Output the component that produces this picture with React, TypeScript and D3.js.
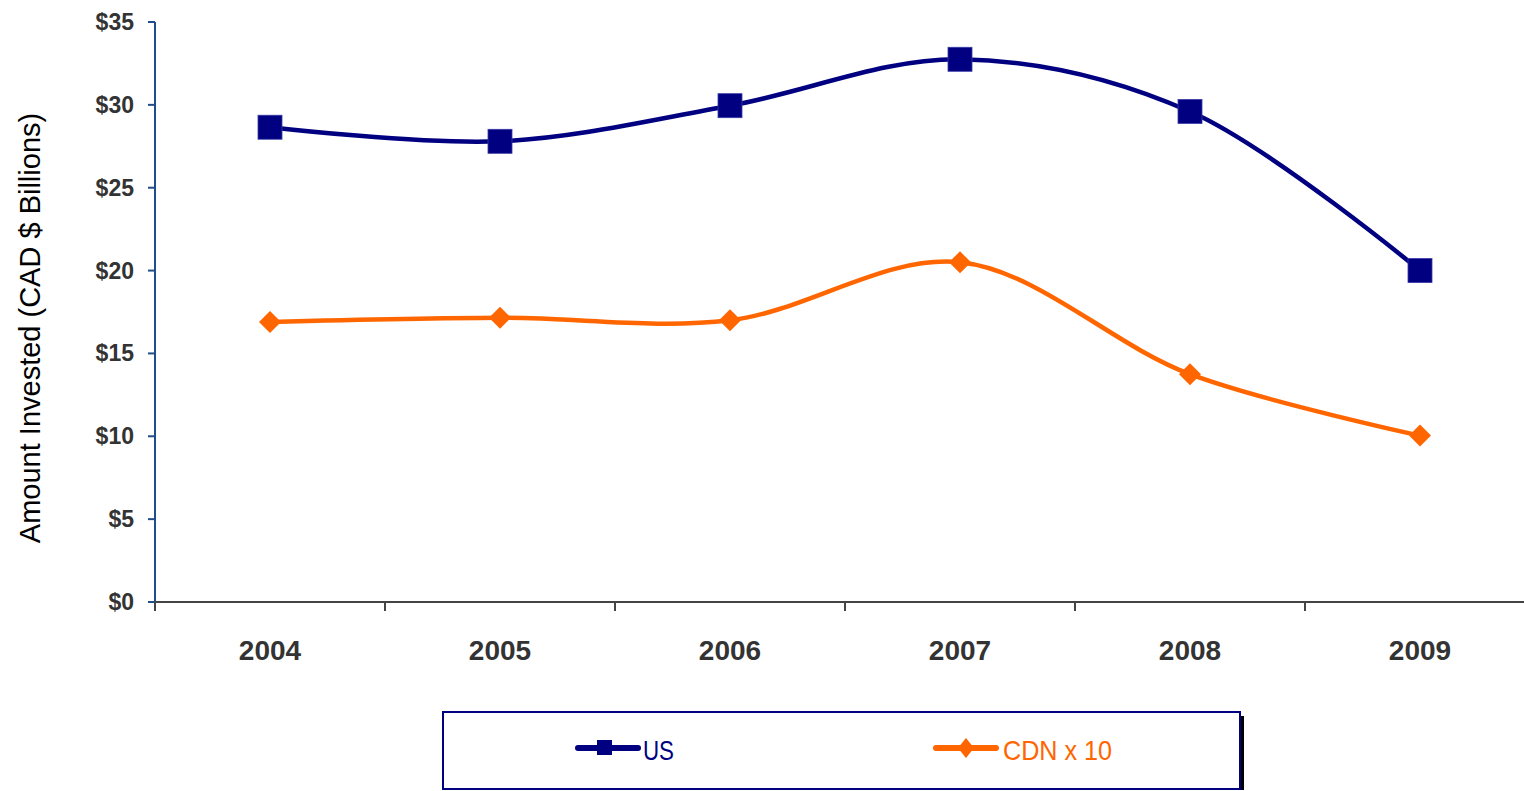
import React from "react";
import * as d3 from "d3";

const years = ["2004", "2005", "2006", "2007", "2008", "2009"];
const usValues = [28.65, 27.8, 29.95, 32.75, 29.6, 20.0];
const cdnValues = [16.9, 17.15, 17.0, 20.5, 13.75, 10.05];
const yTicks = [0, 5, 10, 15, 20, 25, 30, 35];

const W = 1524;
const H = 791;
const left = 155;
const step = 230;
const top = 22;
const bottom = 602;

export default function App() {
  const x = d3.scaleBand<string>().domain(years).range([left, left + step * years.length]);
  const y = d3.scaleLinear().domain([0, 35]).range([bottom, top]);
  const cx = (d: string) => (x(d) as number) + x.bandwidth() / 2;
  const line = d3
    .line<number>()
    .x((_, i) => cx(years[i]))
    .y((v) => y(v))
    .curve(d3.curveCatmullRom.alpha(0.5));
  const tickFont = "'Liberation Sans', Arial, sans-serif";
  const narrow = "'Liberation Sans Narrow', 'Arial Narrow', 'Liberation Sans', sans-serif";
  return (
    <div style={{ position: "absolute", left: 0, top: 0 }}>
      <svg width={W} height={H} style={{ display: "block" }}>
        <rect width={W} height={H} fill="#fff" />
        {/* y axis */}
        <line x1={left} x2={left} y1={top} y2={bottom} stroke="#1f4e8a" strokeWidth={2} />
        {yTicks.map((t) => (
          <g key={t}>
            <line x1={left - 7} x2={left} y1={y(t)} y2={y(t)} stroke="#1f4e8a" strokeWidth={2} />
            <text
              x={left - 21}
              y={y(t)}
              dy="0.35em"
              textAnchor="end"
              fontFamily={tickFont}
              fontWeight="bold"
              fontSize={23}
              fill="#333"
            >
              ${t}
            </text>
          </g>
        ))}
        {/* x axis */}
        <line x1={left} x2={W} y1={bottom} y2={bottom} stroke="#444" strokeWidth={2} />
        {years.map((yr) => (
          <line
            key={"t" + yr}
            x1={x(yr) as number}
            x2={x(yr) as number}
            y1={bottom}
            y2={bottom + 9}
            stroke="#444"
            strokeWidth={2}
          />
        ))}
        {years.map((yr) => (
          <text
            key={"l" + yr}
            x={cx(yr)}
            y={660}
            textAnchor="middle"
            fontFamily={tickFont}
            fontWeight="bold"
            fontSize={28}
            fill="#333"
          >
            {yr}
          </text>
        ))}
        <text
          transform={`translate(40,${(top + bottom) / 2 + 16}) rotate(-90)`}
          textAnchor="middle"
          fontFamily={tickFont}
          fontSize={29}
          fill="#000"
        >
          Amount Invested (CAD $ Billions)
        </text>
        {/* lines */}
        <path d={line(usValues) || ""} fill="none" stroke="#000080" strokeWidth={4.5} />
        <path d={line(cdnValues) || ""} fill="none" stroke="#ff6600" strokeWidth={4.5} />
        {usValues.map((v, i) => (
          <rect
            key={"us" + i}
            x={cx(years[i]) - 12}
            y={y(v) - 12}
            width={24}
            height={24}
            fill="#000080"
            stroke="#3a3aa8"
            strokeWidth={0.8}
          />
        ))}
        {cdnValues.map((v, i) => (
          <path
            key={"cdn" + i}
            d={`M${cx(years[i])},${y(v) - 11}L${cx(years[i]) + 11},${y(v)}L${cx(years[i])},${y(v) + 11}L${cx(years[i]) - 11},${y(v)}Z`}
            fill="#ff6600"
          />
        ))}
        {/* legend */}
        <rect x={1240} y={716} width={4} height={74} fill="#000" />
        <rect x={443} y={712} width={797} height={77} fill="#fff" stroke="#000080" strokeWidth={2} />
        <line x1={578} x2={638} y1={748} y2={748} stroke="#000080" strokeWidth={6} strokeLinecap="round" />
        <rect x={597} y={740} width={15} height={15} fill="#000080" />
        <text x={643} y={760} fontFamily={narrow} fontSize={28} fill="#000080" textLength={31} lengthAdjust="spacingAndGlyphs">
          US
        </text>
        <line x1={936} x2={996} y1={748} y2={748} stroke="#ff6600" strokeWidth={6} strokeLinecap="round" />
        <path d="M966,738L974,748L966,758L958,748Z" fill="#ff6600" />
        <text x={1003} y={760} fontFamily={narrow} fontSize={28} fill="#ff6600" textLength={109} lengthAdjust="spacingAndGlyphs">
          CDN x 10
        </text>
      </svg>
    </div>
  );
}
